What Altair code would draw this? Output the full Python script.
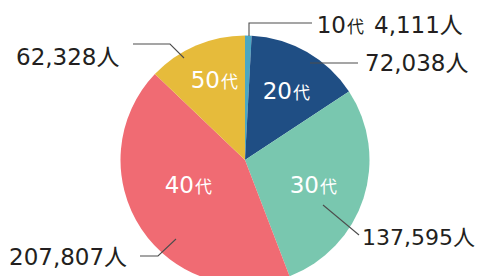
import altair as alt
import pandas as pd

# ---- data ----
ages = ["10代", "20代", "30代", "40代", "50代"]
nums = ["10", "20", "30", "40", "50"]
counts = [4111, 72038, 137595, 207807, 62328]
colors = ["#4BA7C3", "#1F4E84", "#79C7AF", "#F06B73", "#E6BB3B"]

# ---- layout (pixel offsets relative to the pie centre) ----
W, H = 467, 268
CX, CY = 237, 152
R = 124.5
inner_pos = {  # split x between number and 代, baseline y
    "10代": None,
    "20代": (47, -61),
    "30代": (74, 33),
    "40代": (-51, 33),
    "50代": (-25, -72),
}
outer_pos = {  # left x, baseline y, font size of "N人" label
    "10代": (129, -127, 23),
    "20代": (120, -89, 23),
    "30代": (117, 85, 22),
    "40代": (-236, 105, 23),
    "50代": (-229, -95, 23),
}
leaders = {
    "10代": [(4, -124), (4, -137), (67, -137)],
    "20代": [(65, -97), (113, -97)],
    "30代": [(78, 45), (114, 75)],
    "40代": [(-69, 79), (-87, 96), (-105, 96)],
    "50代": [(-61, -102), (-75, -116), (-112, -116)],
}

FONT = "DejaVu Sans, Noto Sans CJK JP"
CJK = "Noto Sans CJK JP"

xs = alt.Scale(domain=[-CX, W - CX], nice=False, zero=False)
ys = alt.Scale(domain=[-CY, H - CY], reverse=True, nice=False, zero=False)

pie_df = pd.DataFrame({"age": ages, "count": counts, "idx": range(len(ages))})

pie = alt.Chart(pie_df).mark_arc(radius=R).encode(
    theta=alt.Theta("count:Q", stack=True),
    color=alt.Color("age:N", scale=alt.Scale(domain=ages, range=colors), legend=None),
    order=alt.Order("idx:Q"),
    x=alt.value(CX),
    y=alt.value(CY),
)

# inner white labels
in_rows = []
for a, n in zip(ages, nums):
    p = inner_pos[a]
    if p is None:
        continue
    in_rows.append({"num": n, "dai": "代", "x": p[0], "y": p[1]})
in_df = pd.DataFrame(in_rows)

in_num = alt.Chart(in_df).mark_text(
    align="right", baseline="alphabetic", font=FONT, fontSize=23, color="white"
).encode(
    x=alt.X("x:Q", scale=xs, axis=None),
    y=alt.Y("y:Q", scale=ys, axis=None),
    text="num:N",
)
in_dai = alt.Chart(in_df).mark_text(
    align="left", baseline="alphabetic", font=CJK, fontSize=17, color="white", dx=1
).encode(
    x=alt.X("x:Q", scale=xs, axis=None),
    y=alt.Y("y:Q", scale=ys, axis=None),
    text="dai:N",
)

# outer count labels
out_df = pd.DataFrame({
    "label": [f"{c:,}人" for c in counts],
    "x": [outer_pos[a][0] for a in ages],
    "y": [outer_pos[a][1] for a in ages],
    "fs": [outer_pos[a][2] for a in ages],
})
out_txt = alt.Chart(out_df).mark_text(
    align="left", baseline="alphabetic", font=FONT, color="#231F20"
).encode(
    x=alt.X("x:Q", scale=xs, axis=None),
    y=alt.Y("y:Q", scale=ys, axis=None),
    size=alt.Size("fs:Q", scale=None, legend=None),
    text="label:N",
)

# "10代" prefix for the smallest slice
pre_df = pd.DataFrame({"num": [nums[0]], "dai": ["代"], "x": [101], "y": [-127]})
pre_num = alt.Chart(pre_df).mark_text(
    align="right", baseline="alphabetic", font=FONT, fontSize=23, color="#231F20"
).encode(
    x=alt.X("x:Q", scale=xs, axis=None),
    y=alt.Y("y:Q", scale=ys, axis=None),
    text="num:N",
)
pre_dai = alt.Chart(pre_df).mark_text(
    align="left", baseline="alphabetic", font=CJK, fontSize=17, color="#231F20", dx=1
).encode(
    x=alt.X("x:Q", scale=xs, axis=None),
    y=alt.Y("y:Q", scale=ys, axis=None),
    text="dai:N",
)

# leader lines
l_rows = []
for a, pts in leaders.items():
    for i, (px, py) in enumerate(pts):
        l_rows.append({"age": a, "i": i, "x": px, "y": py})
l_df = pd.DataFrame(l_rows)
lines = alt.Chart(l_df).mark_line(color="#4D4D4D", strokeWidth=1.1).encode(
    x=alt.X("x:Q", scale=xs, axis=None),
    y=alt.Y("y:Q", scale=ys, axis=None),
    detail="age:N",
    order="i:Q",
)

chart = alt.layer(pie, lines, in_num, in_dai, out_txt, pre_num, pre_dai).properties(
    width=W, height=H, padding=0, autosize=alt.AutoSizeParams(type="none")
).configure_view(stroke=None)

chart.save("out.html", embed_options={"renderer": "svg", "actions": False})
